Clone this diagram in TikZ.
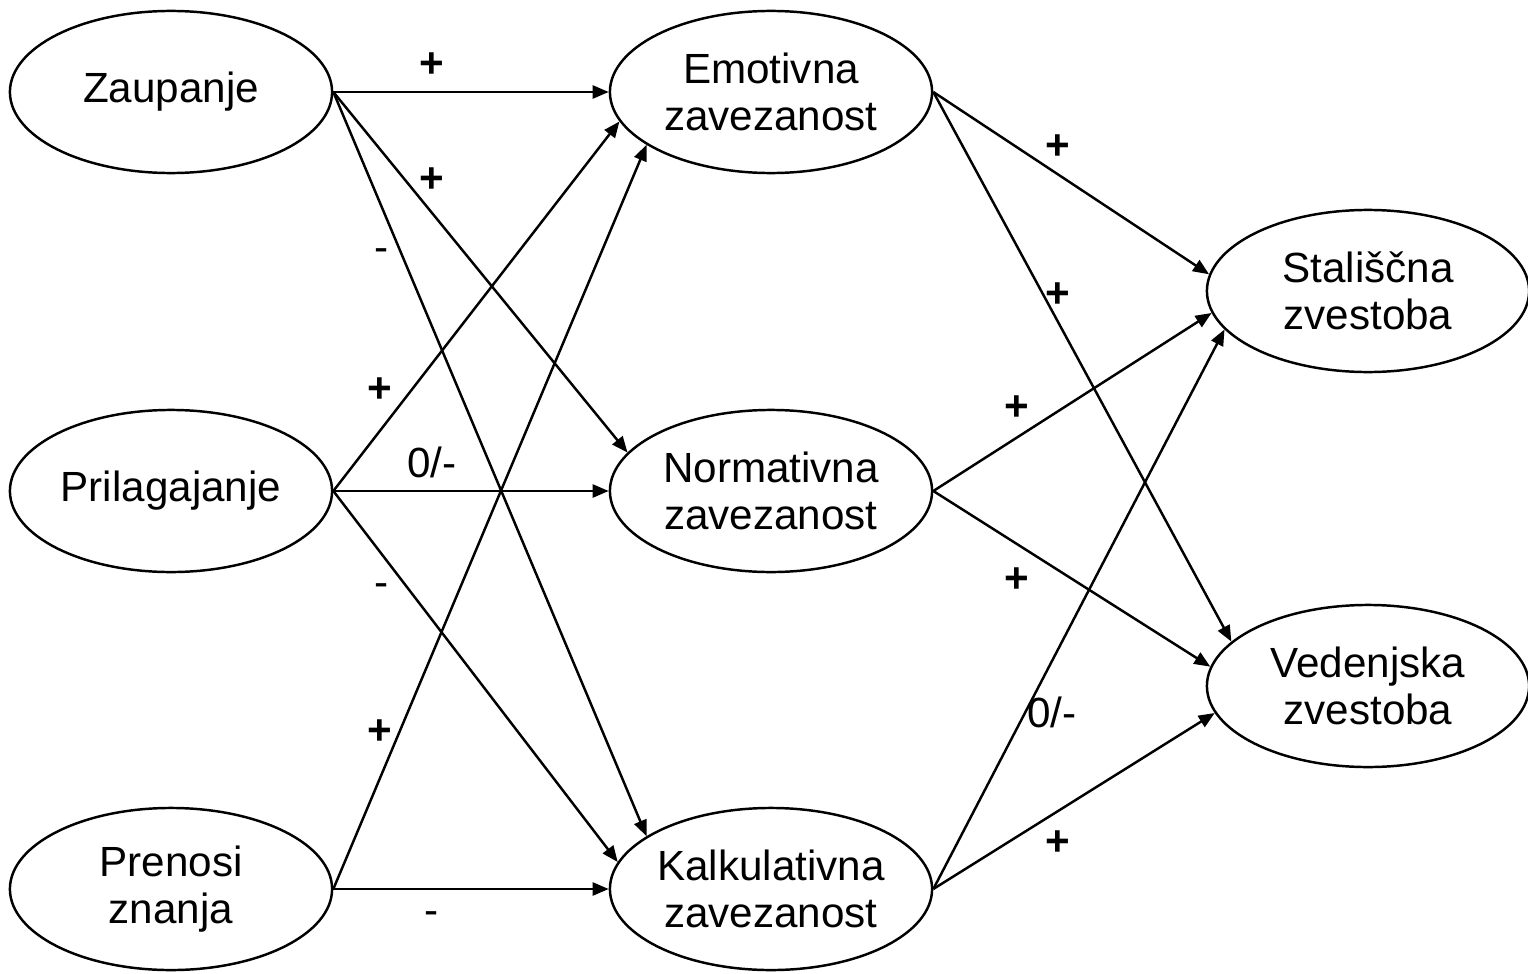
\documentclass[tikz,border=0pt]{standalone}
\usepackage{fontspec}
\setmainfont{Liberation Sans}
\usetikzlibrary{shapes.geometric,arrows.meta}

\begin{document}
\begin{tikzpicture}[x=0.01cm, y=-0.01cm,
  factor/.style={ellipse, draw, line width=0.7pt, minimum width=3.22cm, minimum height=1.62cm, inner sep=0pt, align=center, font=\fontsize{12pt}{13.5pt}\selectfont},
  link/.style={-{Triangle[length=0.16cm, width=0.13cm]}, line width=0.7pt},
  sign/.style={inner sep=0pt, font=\fontsize{12pt}{13.5pt}\selectfont}]
  \useasboundingbox (0,0) rectangle (1528,973);

  \node[factor] (zau) at (171,92) {Zaupanje};
  \node[factor] (pri) at (171,491) {Prilagajanje};
  \node[factor] (pre) at (171,889) {Prenosi\\znanja};
  \node[factor] (emo) at (771,92) {Emotivna\\zavezanost};
  \node[factor] (nor) at (771,491) {Normativna\\zavezanost};
  \node[factor] (kal) at (771,889) {Kalkulativna\\zavezanost};
  \node[factor] (sta) at (1368,291) {Stališčna\\zvestoba};
  \node[factor] (ved) at (1368,686) {Vedenjska\\zvestoba};

  \draw[link] (zau.east) -- (emo.west);
  \draw[link] (zau.east) -- (nor.165);
  \draw[link] (zau.east) -- (kal.157);
  \draw[link] (pri.east) -- (emo.191);
  \draw[link] (pri.east) -- (nor.west);
  \draw[link] (pri.east) -- (kal.170);
  \draw[link] (pre.east) -- (emo.203);
  \draw[link] (pre.east) -- (kal.west);
  \draw[link] (emo.east) -- (sta.174);
  \draw[link] (emo.east) -- (ved.162);
  \draw[link] (nor.east) -- (sta.188);
  \draw[link] (nor.east) -- (ved.173);
  \draw[link] (kal.east) -- (sta.195);
  \draw[link] (kal.east) -- (ved.190);

  \node[sign] (zauemo) at (432,65) {\bfseries +};
  \node[sign] (zaunor) at (432,180) {\bfseries +};
  \node[sign] (zaukal) at (382,255) {-};
  \node[sign] (priemo) at (380,390) {\bfseries +};
  \node[sign] (prinor) at (432,462) {0/-};
  \node[sign] (prikal) at (382,590) {-};
  \node[sign] (preemo) at (380,732) {\bfseries +};
  \node[sign] (prekal) at (432,918) {-};
  \node[sign] (emosta) at (1058,147) {\bfseries +};
  \node[sign] (emoved) at (1058,295) {\bfseries +};
  \node[sign] (norsta) at (1017,408) {\bfseries +};
  \node[sign] (norved) at (1017,580) {\bfseries +};
  \node[sign] (kalsta) at (1052,712) {0/-};
  \node[sign] (kalved) at (1058,843) {\bfseries +};
\end{tikzpicture}
\end{document}
